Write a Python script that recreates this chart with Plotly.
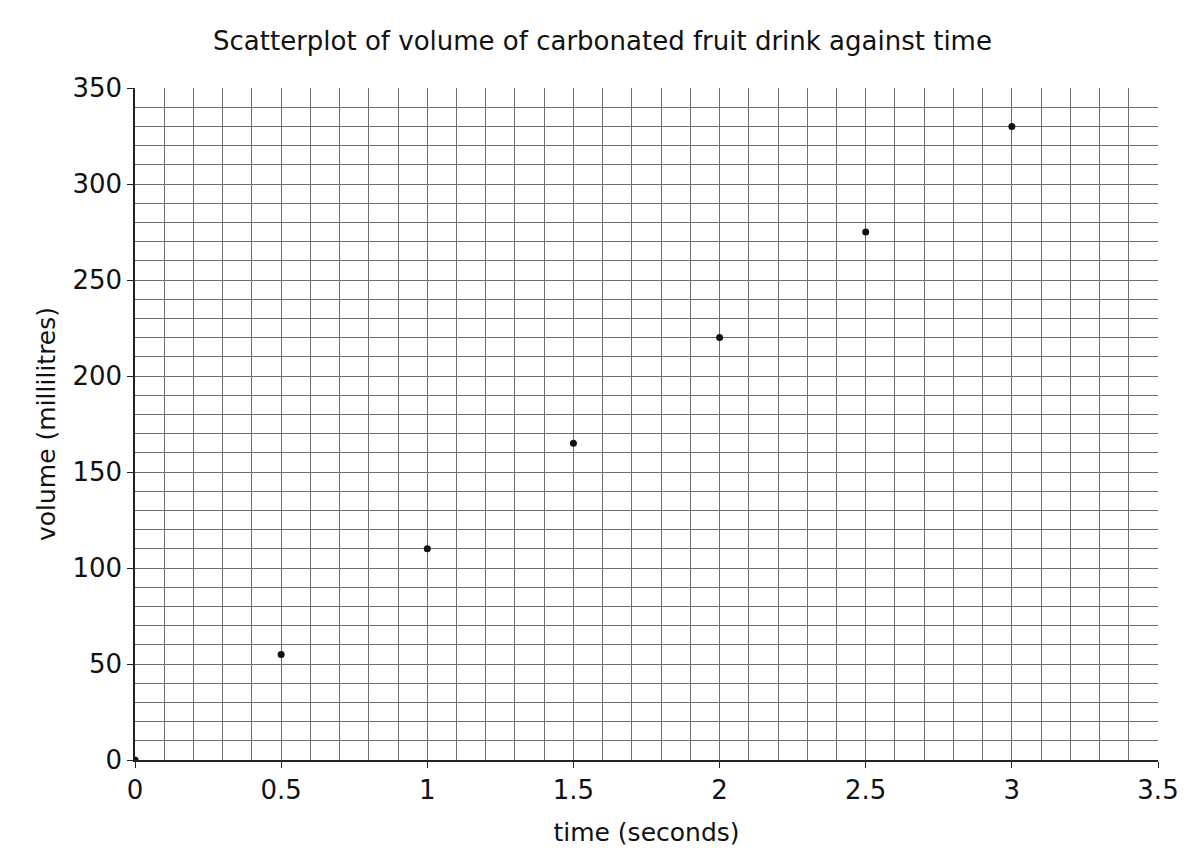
import plotly.graph_objects as go

time_s = [0, 0.5, 1, 1.5, 2, 2.5, 3]
volume_ml = [0, 55, 110, 165, 220, 275, 330]

grid = "#6e6e6e"
font = "DejaVu Sans"

fig = go.Figure()
fig.add_trace(go.Scatter(x=time_s, y=volume_ml, mode="markers",
                         marker=dict(color="#111111", size=7), showlegend=False))

fig.update_layout(
    width=1189, height=865,
    paper_bgcolor="white", plot_bgcolor="white",
    margin=dict(l=127, r=39, t=80, b=113),
    font=dict(family=font, color="#111111", size=24),
    title=dict(text="Scatterplot of volume of carbonated fruit drink against time",
               x=0.5, xanchor="center", y=0.962, yanchor="middle",
               font=dict(size=26)),
)
fig.update_xaxes(
    range=[0, 3.5], dtick=0.5, tick0=0,
    showgrid=True, gridcolor=grid, gridwidth=1,
    minor=dict(dtick=0.1, showgrid=True, gridcolor=grid, gridwidth=1),
    showline=True, linecolor="#222", linewidth=1.5, zeroline=False,
    ticks="outside", ticklen=6, tickcolor="#222", tickfont=dict(size=26),
    title=dict(text="time (seconds)", standoff=20, font=dict(size=25)),
)
fig.update_yaxes(
    range=[0, 350], dtick=50, tick0=0,
    showgrid=True, gridcolor=grid, gridwidth=1,
    minor=dict(dtick=10, showgrid=True, gridcolor=grid, gridwidth=1),
    showline=True, linecolor="#222", linewidth=1.5, zeroline=False,
    ticks="outside", ticklen=6, tickcolor="#222", tickfont=dict(size=26),
    title=dict(text="volume (millilitres)", standoff=10, font=dict(size=25)),
)

fig.write_html("out.html")
